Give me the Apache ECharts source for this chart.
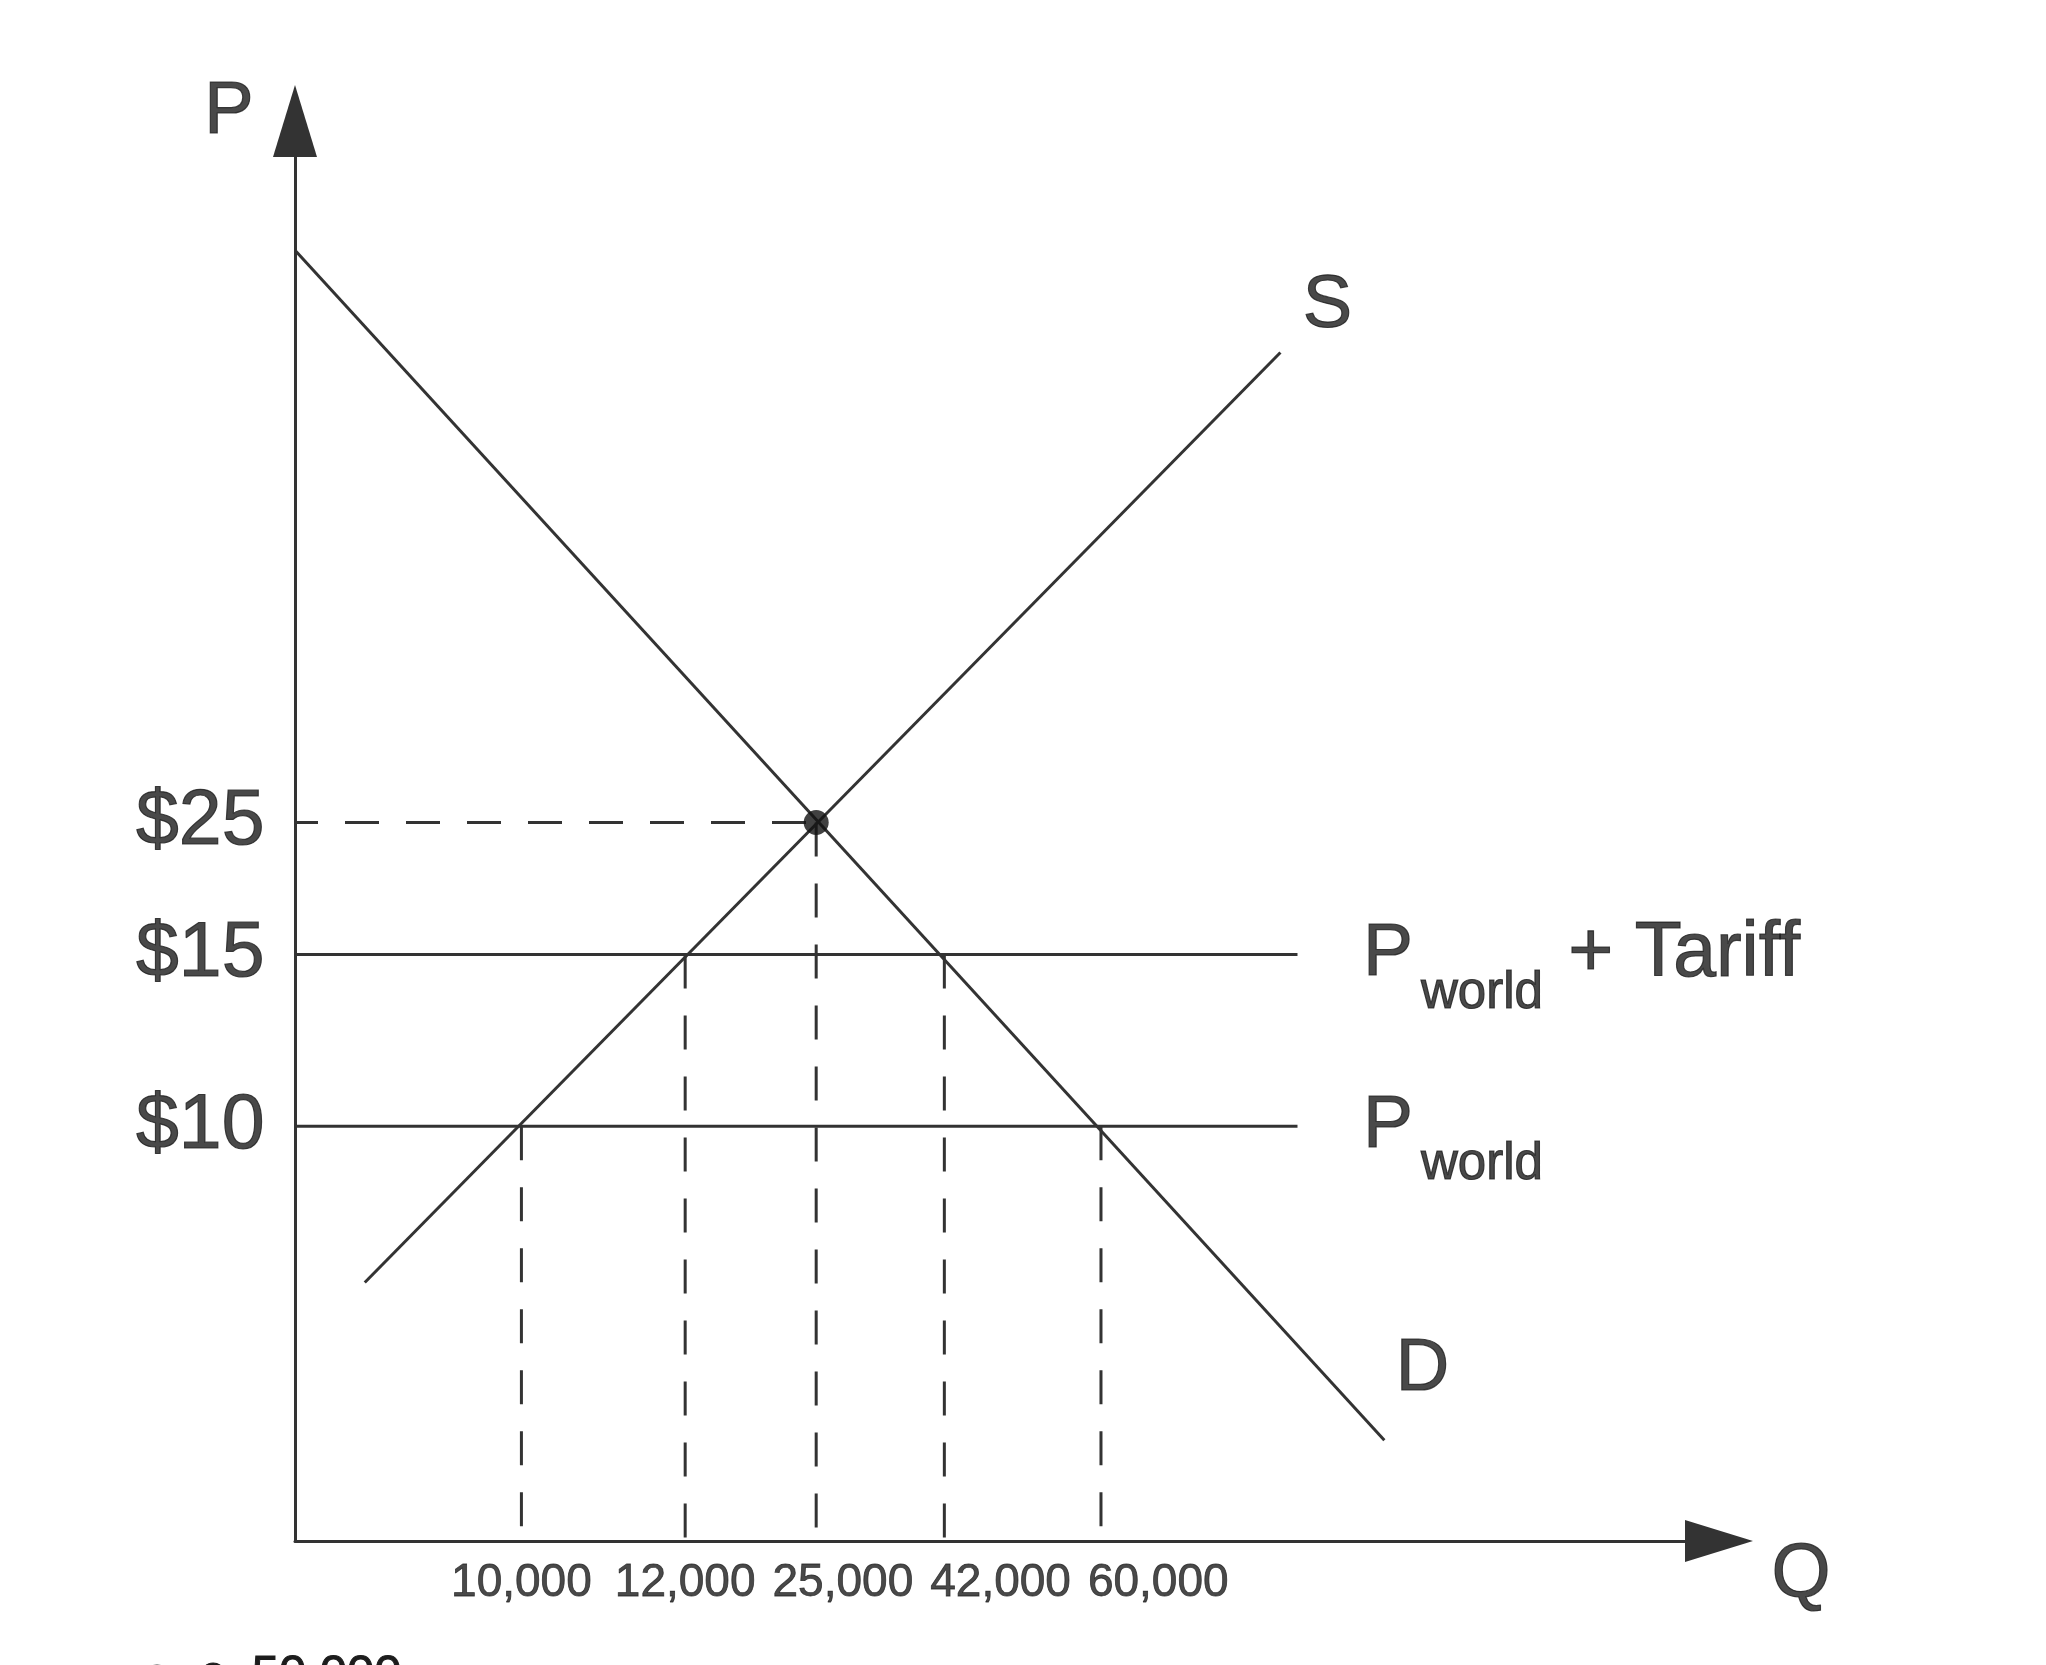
<!DOCTYPE html>
<html>
<head>
<meta charset="utf-8">
<script src="https://cdn.jsdelivr.net/npm/echarts@6.0.0/dist/echarts.min.js"></script>
<style>
html,body{margin:0;padding:0;background:#ffffff;}
#chart{width:2046px;height:1665px;}
</style>
</head>
<body>
<div id="chart"></div>
<script>
// ---- data (schematic diagram units on both axes) ----
const quantityLabels = ['10,000', '12,000', '25,000', '42,000', '60,000'];
const quantityValues = [15.9, 27.4, 36.6, 45.6, 56.6];
const priceLabels = ['$25', '$15', '$10'];
const priceValues = [50.6, 41.3, 29.2];
const dropToPrice = [2, 1, 0, 1, 2];          // price level each quantity guide rises to
const demandPoints = [[0, 90.9], [76.5, 7.1]];
const supplyPoints = [[4.9, 18.2], [69.2, 83.7]];
const worldLineEnd = 70.4;
const equilibrium = [quantityValues[2], priceValues[0]];

// ---- styling ----
const INK = '#333333';
const TEXT = '#1c1c1c';
const FONT = '"Liberation Sans", Arial, Helvetica, sans-serif';
const DASH = [34, 27];
const THICK = {textBorderColor: TEXT, textBorderWidth: 1.2};

const chart = echarts.init(document.getElementById('chart'), null, {renderer: 'canvas'});

function solidLine(data) {
  return {type: 'line', data: data, symbol: 'none', silent: true, clip: false, z: 3,
          lineStyle: {color: INK, width: 3}};
}
function dashedLine(data, offset) {
  return {type: 'line', data: data, symbol: 'none', silent: true, clip: false, z: 2,
          lineStyle: {color: INK, width: 3, type: DASH, dashOffset: offset || 0}};
}
function textPoint(id, value, label) {
  return {id: id, type: 'scatter', silent: true, clip: false, z: 6, symbolSize: 1,
          itemStyle: {color: 'rgba(0,0,0,0)'},
          data: [{value: value}],
          label: Object.assign({show: true, color: TEXT, fontFamily: FONT}, THICK, label)};
}

const series = [];
// guide lines
series.push(dashedLine([[0, priceValues[0]], equilibrium], 11));
quantityValues.forEach(function (q, i) {
  series.push(dashedLine([[q, priceValues[dropToPrice[i]]], [q, 0]], 0));
});
// world price lines
series.push(solidLine([[0, priceValues[1]], [worldLineEnd, priceValues[1]]]));
series.push(solidLine([[0, priceValues[2]], [worldLineEnd, priceValues[2]]]));
// demand & supply
series.push(solidLine(demandPoints));
series.push(solidLine(supplyPoints));
// equilibrium dot
series.push({type: 'scatter', data: [equilibrium], symbolSize: 25, silent: true, z: 5,
             itemStyle: {color: '#111111'}});
// price tick labels
series.push({id: 'pLabels', type: 'scatter', silent: true, clip: false, z: 6, symbolSize: 1,
  itemStyle: {color: 'rgba(0,0,0,0)'},
  data: priceValues.map(function (p, i) { return {value: [0, p], label: {formatter: priceLabels[i]}}; }),
  label: Object.assign({show: true, position: 'left', distance: 30, fontSize: 77, color: TEXT, fontFamily: FONT}, THICK)});
// quantity tick labels (offsets laid out after first render)
series.push({id: 'qLabels', type: 'scatter', silent: true, clip: false, z: 6, symbolSize: 1,
  itemStyle: {color: 'rgba(0,0,0,0)'},
  data: quantityValues.map(function (q, i) { return {value: [q, 0], label: {formatter: quantityLabels[i], offset: [0, 42]}}; }),
  label: {show: true, position: 'inside', fontSize: 46, color: TEXT, fontFamily: FONT,
          textBorderColor: TEXT, textBorderWidth: 0.8}});
// curve & axis names
series.push(textPoint('sName', supplyPoints[1], {position: 'inside', formatter: 'S', fontSize: 74, offset: [47, -46]}));
series.push(textPoint('dName', demandPoints[1], {position: 'inside', formatter: 'D', fontSize: 74, offset: [38, -71]}));
series.push(textPoint('qName', [100, 0], {position: 'inside', formatter: 'Q', fontSize: 76, offset: [82, 34]}));
series.push(textPoint('pName', [0, 100], {position: 'inside', formatter: 'P', fontSize: 74, offset: [-66, -8]}));
const richStyle = {
  p: Object.assign({fontSize: 75, fontFamily: FONT, color: TEXT}, THICK),
  s: Object.assign({fontSize: 51, fontFamily: FONT, color: TEXT, padding: [78, 4, 0, 8]}, THICK),
  t: Object.assign({fontSize: 77, fontFamily: FONT, color: TEXT}, THICK)
};
series.push(textPoint('tariffName', [worldLineEnd, priceValues[1]],
  {position: 'right', distance: 65, formatter: '{p|P}{s|world}{t| + Tariff}', rich: richStyle}));
series.push(textPoint('worldName', [worldLineEnd, priceValues[2]],
  {position: 'right', distance: 65, formatter: '{p|P}{s|world}', rich: richStyle}));

const axisCommon = {
  type: 'value', min: 0, max: 100,
  splitLine: {show: false}, axisTick: {show: false}, axisLabel: {show: false},
};

const option = {
  animation: false,
  backgroundColor: '#ffffff',
  grid: {left: 295, right: 327, top: 121, bottom: 124, containLabel: false},
  xAxis: Object.assign({}, axisCommon, {
    axisLine: {show: true, onZero: false, symbol: ['none', 'triangle'], symbolSize: [42, 68],
               lineStyle: {color: INK, width: 3}}
  }),
  yAxis: Object.assign({}, axisCommon, {
    axisLine: {show: true, onZero: false, symbol: ['none', 'triangle'], symbolSize: [44, 72],
               lineStyle: {color: INK, width: 3}}
  }),
  graphic: [
    {type: 'circle', shape: {cx: 157, cy: 1680, r: 14}, silent: true,
     style: {fill: 'none', stroke: '#333', lineWidth: 3}},
    {type: 'text', x: 200, y: 1675, silent: true,
     style: {text: 'c. 50,000', font: '49px ' + FONT, fill: TEXT, stroke: TEXT, lineWidth: 1,
             verticalAlign: 'middle', align: 'left'}}
  ],
  series: series
};

chart.setOption(option);

// lay out quantity labels so they never overlap (they shift right when crowded)
const ctx = document.createElement('canvas').getContext('2d');
ctx.font = '46px ' + FONT;
const widths = quantityLabels.map(function (t) { return ctx.measureText(t).width; });
const GAP = 17;
const tickPx = quantityValues.map(function (q) { return chart.convertToPixel({gridIndex: 0}, [q, 0])[0]; });
const centers = [];
tickPx.forEach(function (x, i) {
  let c = x;
  if (i > 0) {
    const minC = centers[i - 1] + widths[i - 1] / 2 + GAP + widths[i] / 2;
    if (c < minC) c = minC;
  }
  centers.push(c);
});
chart.setOption({series: [{id: 'qLabels',
  data: quantityValues.map(function (q, i) {
    return {value: [q, 0], label: {formatter: quantityLabels[i], offset: [centers[i] - tickPx[i], 42]}};
  })}]});
</script>
</body>
</html>
